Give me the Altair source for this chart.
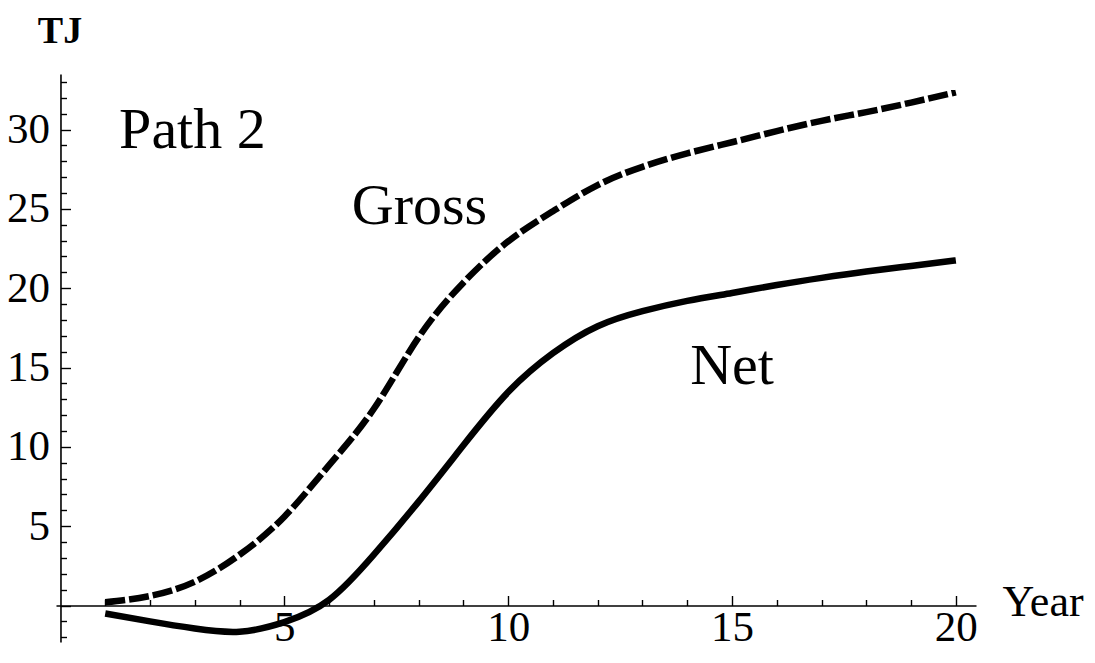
import altair as alt
import pandas as pd

# ---- data ----
years = list(range(1, 21))
gross = [0.2, 0.6, 1.5, 3.2, 5.6, 8.85, 12.4, 16.9, 20.35, 22.95,
         24.85, 26.5, 27.65, 28.5, 29.2, 29.9, 30.55, 31.1, 31.7, 32.35]
net = [-0.5, -1.0, -1.45, -1.65, -1.05, 0.35, 3.2, 6.55, 10.1, 13.45,
       15.9, 17.6, 18.55, 19.2, 19.7, 20.2, 20.65, 21.05, 21.4, 21.75]

x_tick_values = list(range(1, 21))
x_label_values = [5, 10, 15, 20]
y_tick_values = list(range(-2, 34))
y_label_values = [5, 10, 15, 20, 25, 30]

annot_text = ["Path 2", "Gross", "Net"]
annot_x = [1.31, 8.02, 15.0]
annot_y = [28.85, 24.05, 13.98]
annot_align = ["left", "center", "center"]

# ---- layout ----
XMIN, XMAX = -0.1, 20.45
YMIN, YMAX = -2.3, 33.5
W = 920
H = 568
PAD = {"left": 48, "top": 66, "right": 111, "bottom": 8}
zero_y = H * YMAX / (YMAX - YMIN)        # pixel of y=0 from plot top
zero_x = W * (0 - XMIN) / (XMAX - XMIN)  # pixel of x=0 from plot left
FONT = "Liberation Serif"

gross_df = pd.DataFrame({"year": years, "value": gross})
net_df = pd.DataFrame({"year": years, "value": net})
annot_df = pd.DataFrame({"label": annot_text, "x": annot_x, "y": annot_y, "align": annot_align})

xscale = alt.Scale(domain=[XMIN, XMAX], nice=False, zero=False)
yscale = alt.Scale(domain=[YMIN, YMAX], nice=False, zero=False)

tick_cond = {"condition": {"test": "datum.value % 5 === 0", "value": 10}, "value": 6}

net_layer = alt.Chart(net_df).mark_line(
    color="black", strokeWidth=6.5, interpolate="natural", strokeCap="butt"
).encode(
    x=alt.X("year:Q", scale=xscale, axis=alt.Axis(
        orient="bottom", offset=-(H - zero_y), values=x_label_values,
        ticks=False, tickSize=0, domain=True, domainColor="black", domainWidth=1.6,
        labelFont=FONT, labelFontSize=43, labelColor="black", labelPadding=1,
        labelOverlap=False, labelFlush=False, grid=False, format="d",
        title="Year", titleFont=FONT, titleFontSize=44, titleFontWeight="normal",
        titleColor="black", titleX=946, titleY=-3, titleAlign="left",
        titleBaseline="middle", titleAngle=0)),
    y=alt.Y("value:Q", scale=yscale, axis=alt.Axis(
        orient="left", offset=-zero_x, values=y_label_values,
        ticks=False, tickSize=0, domain=True, domainColor="black", domainWidth=1.6,
        labelFont=FONT, labelFontSize=43, labelColor="black", labelPadding=11,
        labelOverlap=False, labelFlush=False, grid=False, format="d",
        title="TJ", titleFont=FONT, titleFontSize=38, titleFontWeight="bold",
        titleColor="black", titleX=-1, titleY=-43, titleAlign="center",
        titleBaseline="middle", titleAngle=0)),
)

gross_layer = alt.Chart(gross_df).mark_line(
    color="black", strokeWidth=6.5, strokeDash=[20, 4], interpolate="natural", strokeCap="butt"
).encode(
    x=alt.X("year:Q", scale=xscale, axis=alt.Axis(
        orient="top", offset=-zero_y, values=x_tick_values, labels=False,
        domain=False, ticks=True, tickColor="black", tickWidth=1.4,
        tickSize=tick_cond, grid=False, title="")),
    y=alt.Y("value:Q", scale=yscale, axis=alt.Axis(
        orient="right", offset=-(W - zero_x), values=y_tick_values, labels=False,
        domain=False, ticks=True, tickColor="black", tickWidth=1.4,
        tickSize=tick_cond, grid=False, title="")),
)

left_text = alt.Chart(annot_df[annot_df["align"] == "left"]).mark_text(
    font=FONT, fontSize=58, color="black", baseline="alphabetic", align="left"
).encode(
    x=alt.X("x:Q", scale=xscale, axis=None),
    y=alt.Y("y:Q", scale=yscale, axis=None),
    text="label:N",
)
center_text = alt.Chart(annot_df[annot_df["align"] == "center"]).mark_text(
    font=FONT, fontSize=58, color="black", baseline="alphabetic", align="center"
).encode(
    x=alt.X("x:Q", scale=xscale, axis=None),
    y=alt.Y("y:Q", scale=yscale, axis=None),
    text="label:N",
)

chart = alt.layer(net_layer, gross_layer, left_text, center_text).resolve_axis(
    x="independent", y="independent"
).properties(
    width=W, height=H,
    padding=PAD,
    autosize="none",
    background="white",
).configure_view(stroke=None)

chart.save("out.html", embed_options={"renderer": "svg", "actions": False})
